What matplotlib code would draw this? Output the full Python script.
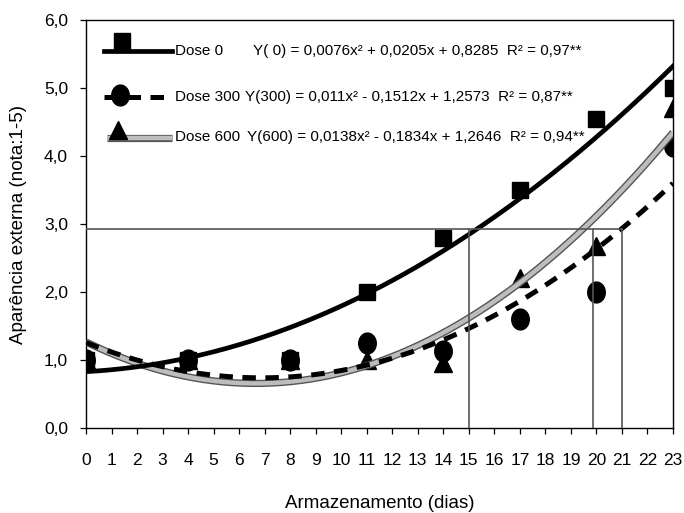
import numpy as np
import matplotlib
matplotlib.use('Agg')
import matplotlib.pyplot as plt
from matplotlib.lines import Line2D
from matplotlib.path import Path
import matplotlib.patheffects as pe

plt.rcParams['font.family'] = ['Liberation Sans', 'DejaVu Sans']

# ---------------- data ----------------
days = [0, 4, 8, 11, 14, 17, 20, 23]
dose0 = [1.0, 1.0, 1.0, 2.0, 2.8, 3.5, 4.55, 5.0]
dose300 = [1.0, 1.0, 1.0, 1.25, 1.13, 1.6, 2.0, 4.15]
dose600 = [1.0, 1.0, 1.0, 1.0, 0.95, 2.2, 2.68, 4.7]

# trendline coefficients (a x^2 + b x + c) as printed on the chart
coef0 = [0.0076, 0.0205, 0.8285]
coef300 = [0.011, -0.1512, 1.2573]
coef600 = [0.0138, -0.1834, 1.2646]

series_labels = ['Dose 0', 'Dose 300', 'Dose 600']
equations = ['Y( 0) = 0,0076x² + 0,0205x + 0,8285  R² = 0,97**',
             'Y(300) = 0,011x² - 0,1512x + 1,2573  R² = 0,87**',
             'Y(600) = 0,0138x² - 0,1834x + 1,2646  R² = 0,94**']

ref_level = 2.93
ref_days = [15, 19.85, 21]

xticks = list(range(0, 24))
yticks = [0, 1, 2, 3, 4, 5, 6]
ytick_labels = ['0,0', '1,0', '2,0', '3,0', '4,0', '5,0', '6,0']
xlabel = 'Armazenamento (dias)'
ylabel = 'Aparência externa (nota:1-5)'

# ---------------- figure ----------------
W, H = 684, 513
fig = plt.figure(figsize=(W / 100, H / 100), dpi=100)


def fx(px):
    return px / W


def fy(py):
    return 1 - py / H


ax = fig.add_axes([fx(86), fy(428), fx(673) - fx(86), fy(20) - fy(428)])
ax.set_xlim(0, 23)
ax.set_ylim(0, 6)

# ellipse marker (slightly taller than wide)
t = np.linspace(0, 2 * np.pi, 80)
ellipse = Path(np.column_stack([0.42 * np.cos(t), 0.5 * np.sin(t)]), closed=True)

# data markers
ax.plot(days, dose600, linestyle='none', marker='^', ms=12.5, color='black', zorder=3)
ax.plot(days, dose0, linestyle='none', marker='s', ms=11.5, color='black', zorder=3.1)
ax.plot(days, dose300, linestyle='none', marker=ellipse, ms=15, color='black', zorder=3.2)

# trendlines
xs = np.linspace(0, 23, 300)
y0 = np.polyval(coef0, xs)
y300 = np.polyval(coef300, xs)
y600 = np.polyval(coef600, xs)

gray_fx = [pe.Stroke(linewidth=5.2, foreground='#555555'), pe.Normal()]
ax.plot(xs, y600, color='#bdbdbd', lw=3.2, zorder=4, path_effects=gray_fx,
        solid_capstyle='butt')
ax.plot(xs, y300, color='black', lw=3.6, dashes=(2.7, 1.9), zorder=4.1,
        dash_capstyle='butt')
ax.plot(xs, y0, color='black', lw=3.4, zorder=4.2)

# reference lines
refc = '#555555'
ax.plot([0, max(ref_days)], [ref_level, ref_level], color=refc, lw=1.2, zorder=5)
for d in ref_days:
    ax.plot([d, d], [0, ref_level], color=refc, lw=1.2, zorder=5)

# axes styling
for s in ax.spines.values():
    s.set_linewidth(1.0)
    s.set_color('black')
ax.set_xticks(xticks)
ax.set_xticklabels([str(v) for v in xticks])
ax.set_yticks(yticks)
ax.set_yticklabels(ytick_labels)
ax.tick_params(axis='both', direction='out', length=4, width=0.9, labelsize=12.5)
ax.tick_params(axis='x', pad=14)
ax.tick_params(axis='y', pad=9)
ax.set_xlabel(xlabel, fontsize=13.5)
ax.xaxis.set_label_coords(0.5, -0.165)
ax.set_ylabel(ylabel, fontsize=13.5)
ax.yaxis.set_label_coords(-0.1, 0.5)

# ---------------- manual legend ----------------
rows = [51, 97, 137]
hx0, hx1 = 104, 172
# Dose 0
fig.add_artist(Line2D([fx(hx0), fx(hx1)], [fy(rows[0])] * 2, color='black', lw=3.4))
fig.add_artist(Line2D([fx(122)], [fy(41)], marker='s', ms=11.5, color='black',
                      linestyle='none'))
# Dose 300
fig.add_artist(Line2D([fx(hx0), fx(hx1)], [fy(rows[1])] * 2, color='black', lw=3.6,
                      dashes=(2.7, 1.9), dash_capstyle='butt'))
fig.add_artist(Line2D([fx(120)], [fy(95)], marker=ellipse, ms=15, color='black',
                      linestyle='none'))
# Dose 600
fig.add_artist(Line2D([fx(hx0 + 3), fx(hx1)], [fy(rows[2] + 1)] * 2, color='#bdbdbd', lw=3.2,
                      path_effects=gray_fx, solid_capstyle='butt'))
fig.add_artist(Line2D([fx(118)], [fy(130)], marker='^', ms=12.5, color='black',
                      linestyle='none'))

eq_x = [253, 245, 247]
for r, lab, eq, ex in zip(rows, series_labels, equations, eq_x):
    fig.text(fx(175), fy(r), lab, fontsize=11, va='center', ha='left')
    fig.text(fx(ex), fy(r), eq, fontsize=11, va='center', ha='left')

fig.savefig('out.png', dpi=100)
